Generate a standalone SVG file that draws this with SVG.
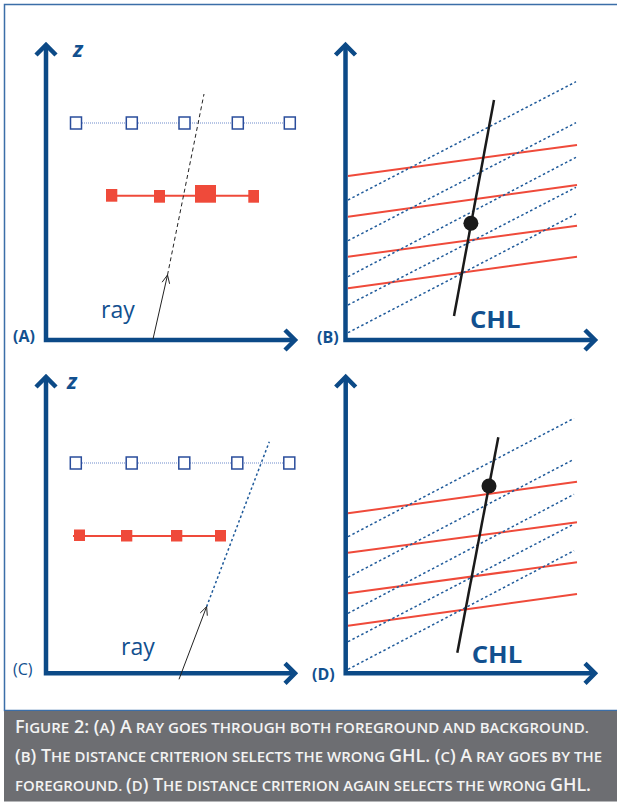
<svg xmlns="http://www.w3.org/2000/svg" width="617" height="803" viewBox="0 0 617 803">
<style>
.axis{fill:none;stroke:#0c4a87;stroke-width:4.5;stroke-linejoin:miter;stroke-linecap:butt}
.bsq{fill:#fff;stroke:#2a4d9c;stroke-width:1.5}
.bdot{fill:none;stroke:#9fb3dd;stroke-width:1.5;stroke-dasharray:1 1}
.rsq{fill:#ef4a3a}
.rline{fill:none;stroke:#ef4a3a;stroke-width:2}
.gline{fill:none;stroke:#ef4a3a;stroke-width:2}
.dline{fill:none;stroke:#1f5a9a;stroke-width:1.5;stroke-dasharray:2.5 2.5}
.chl{fill:none;stroke:#1a1a1a;stroke-width:2.5}
.ray{fill:none;stroke:#222;stroke-width:1}
.lbl{font-family:"Open Sans","Liberation Sans",sans-serif;fill:#12508f}
.zl{font-size:22px;font-style:italic;font-weight:700}
.cap{font-family:"Open Sans","Liberation Sans",sans-serif;font-weight:600;fill:#f3f3f3;font-size:15px}
.big{font-size:18px}
</style>
<rect x="0" y="0" width="617" height="803" fill="#fff"/>
<g id="frame">
<path d="M617,4.5 H4.5 V710.5 H617" fill="none" stroke="#3b6ea8" stroke-width="1.5"/>
<rect x="4" y="711" width="613" height="90.5" fill="#6d6e72"/>
</g>

<g id="panelA">
<path class="axis" d="M46,45 V340 H295"/>
<path class="axis" d="M36,55 L46,45 L56,55 M285,330 L295,340 L285,350"/>
<text class="lbl zl" x="73" y="57.3">z</text>
<path class="bdot" d="M70,123 H296"/>
<rect class="bsq" x="70.5" y="117" width="11" height="12"/>
<rect class="bsq" x="126.3" y="117" width="11" height="12"/>
<rect class="bsq" x="179" y="117" width="11" height="12"/>
<rect class="bsq" x="232.3" y="117" width="11" height="12"/>
<rect class="bsq" x="284.3" y="117" width="11" height="12"/>
<path class="rline" d="M106,195.7 H259"/>
<rect class="rsq" x="106" y="189" width="11.3" height="12.7"/>
<rect class="rsq" x="154" y="190" width="11" height="12.7"/>
<rect class="rsq" x="195" y="185" width="21" height="17.7"/>
<rect class="rsq" x="248.3" y="190" width="10.7" height="12.7"/>
<path class="ray" d="M153,339 L167.5,275"/>
<path class="ray" d="M167.5,275 L204,94" stroke-dasharray="4 3"/>
<path class="ray" d="M162.1,282.2 L167.5,275 L169.6,283.8"/>
<text class="lbl" x="101" y="318.3" font-size="23">ray</text>
<text class="lbl" x="13" y="341.7" font-size="16" font-weight="700">(A)</text>
</g>

<g id="panelB">
<path class="axis" d="M345.5,45 V340 H595"/>
<path class="axis" d="M335.5,55 L345.5,45 L355.5,55 M585,330 L595,340 L585,350"/>
<path class="gline" d="M348,176 L577,145 M348,216.7 L577,185 M348,256.7 L577,225.7 M348,288.3 L577,256.7"/>
<path class="dline" d="M348,200 L576,81.7 M348,240.7 L576,122.7 M348,276.7 L576,157.3 M348,305 L576,187.3 M348,332.7 L576,214"/>
<path class="chl" d="M454,316 L494,100"/>
<circle cx="470.9" cy="223.3" r="7.5" fill="#1a1a1a"/>
<text class="lbl" x="470" y="327.7" font-size="23" font-weight="700" textLength="50.5" lengthAdjust="spacingAndGlyphs">CHL</text>
<text class="lbl" x="317" y="343.3" font-size="16" font-weight="700">(B)</text>
</g>

<g id="panelC">
<path class="axis" d="M46,377 V673.3 H295"/>
<path class="axis" d="M36,387 L46,377 L56,387 M285,663.3 L295,673.3 L285,683.3"/>
<text class="lbl zl" x="67" y="389.3">z</text>
<path class="bdot" d="M70,463 H296"/>
<rect class="bsq" x="70.3" y="457" width="11" height="12"/>
<rect class="bsq" x="126.2" y="457" width="11" height="12"/>
<rect class="bsq" x="178.8" y="457" width="11" height="12"/>
<rect class="bsq" x="231.8" y="457" width="11" height="12"/>
<rect class="bsq" x="283.8" y="457" width="11" height="12"/>
<path class="rline" d="M73,536 H226"/>
<rect class="rsq" x="74" y="529.5" width="11" height="11.5"/>
<rect class="rsq" x="121" y="530" width="11.3" height="11.5"/>
<rect class="rsq" x="171" y="530" width="11.3" height="11.5"/>
<rect class="rsq" x="215" y="530" width="11" height="11.5"/>
<path class="ray" d="M179,679.3 L206.6,606.7"/>
<path class="dline" d="M206.6,606.7 L269.3,441.7" stroke-dasharray="2 2"/>
<path class="ray" d="M200.2,613 L206.6,606.7 L207.3,615.7"/>
<text class="lbl" x="121" y="655" font-size="23">ray</text>
<text class="lbl" x="13" y="675" font-size="16">(C)</text>
</g>

<g id="panelD">
<path class="axis" d="M345.7,377 V673.3 H595"/>
<path class="axis" d="M335.7,387 L345.7,377 L355.7,387 M585,663.3 L595,673.3 L585,683.3"/>
<path class="gline" d="M348,513.3 L577,481.7 M348,552.7 L577,522.3 M348,593.3 L577,562.3 M348,625.7 L577,594"/>
<path class="dline" d="M348,536.7 L574,418.3 M348,577.3 L574,459.3 M348,613.3 L574,494.3 M348,641.7 L574,524 M348,669.3 L574,550.7"/>
<path class="chl" d="M457.3,652.7 L498.3,437.3"/>
<circle cx="489" cy="486" r="7.5" fill="#1a1a1a"/>
<text class="lbl" x="471.7" y="663.3" font-size="23" font-weight="700" textLength="50.5" lengthAdjust="spacingAndGlyphs">CHL</text>
<text class="lbl" x="312" y="680" font-size="16" font-weight="700">(D)</text>
</g>

<g id="caption">
<text class="cap" x="15" y="733" textLength="574" lengthAdjust="spacingAndGlyphs"><tspan class="big">F</tspan>IGURE<tspan class="big"> 2: (</tspan>A<tspan class="big">) A</tspan> RAY GOES THROUGH BOTH FOREGROUND AND BACKGROUND.</text>
<text class="cap" x="15" y="762" textLength="587" lengthAdjust="spacingAndGlyphs"><tspan class="big">(</tspan>B<tspan class="big">) T</tspan>HE DISTANCE CRITERION SELECTS THE WRONG <tspan class="big">GHL. (</tspan>C<tspan class="big">) A</tspan> RAY GOES BY THE</text>
<text class="cap" x="15" y="791" textLength="576" lengthAdjust="spacingAndGlyphs">FOREGROUND. <tspan class="big">(</tspan>D<tspan class="big">) T</tspan>HE DISTANCE CRITERION AGAIN SELECTS THE WRONG <tspan class="big">GHL.</tspan></text>
</g>
</svg>
